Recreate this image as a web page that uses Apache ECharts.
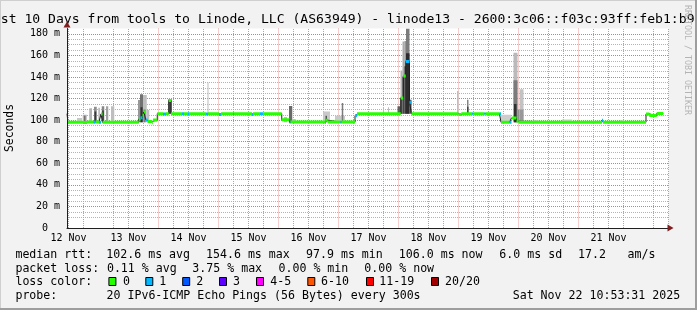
<!DOCTYPE html>
<html><head><meta charset="utf-8">
<script src="https://cdn.jsdelivr.net/npm/echarts@6/dist/echarts.min.js"></script>
<style>html,body{margin:0;padding:0;background:#f2f2f2}#c{width:697px;height:310px}</style>
</head><body><div id="c"></div>
<script>
// ---- data (time in hours since 12 Nov 00:00, values in ms) ----
const X_MIN = 11.4, X_MAX = 252;
const Y_MAX = 185;
const DAY_LABELS = ['12 Nov','13 Nov','14 Nov','15 Nov','16 Nov','17 Nov','18 Nov','19 Nov','20 Nov','21 Nov'];
const LABEL_HOURS = [12, 36, 60, 84, 108, 132, 156, 180, 204, 228];
const TITLE = 'st 10 Days from tools to Linode, LLC (AS63949) - linode13 - 2600:3c06::f03c:93ff:feb1:b9';
const Y_TITLE = 'Seconds';
const LOSS_LABELS = ['0','1','2','3','4-5','6-10','11-19','20/20'];
const LOSS_COLORS = ['#26ff00','#00b8ff','#0059ff','#5e00ff','#ff00ff','#ff5500','#ff0000','#a10000'];
const MEDIAN_RTT = ['102.6 ms avg','154.6 ms max','97.9 ms min','106.0 ms now','6.0 ms sd','17.2','am/s'];
const PACKET_LOSS = ['0.11 % avg','3.75 % max','0.00 % min','0.00 % now'];
const PROBE = '20 IPv6-ICMP Echo Pings (56 Bytes) every 300s';
const STAMP = 'Sat Nov 22 10:53:31 2025';

// median segments: [from, to, median ms, lost pings]
const MEDIAN = [
  [11.4,11.8,106.0,0],[11.8,17.8,98.1,0],[17.8,19.4,97.8,0],[19.4,22.0,98.3,0],[22.0,22.8,98.1,1],
  [22.8,24.2,98.3,0],[24.2,25.0,98.0,1],[25.0,25.6,105.8,0],[25.6,40.1,98.1,0],[40.1,40.8,101.0,0],
  [40.8,41.6,102.3,1],[41.6,42.2,104.5,0],[42.2,42.9,107.6,0],[42.9,43.6,100.2,1],[43.6,45.5,98.8,0],
  [45.5,45.8,97.7,0],[45.8,47.5,100.2,0],[47.5,49.8,106.0,0],[49.8,51.0,105.8,1],[51.0,52.1,106.0,0],
  [52.1,53.0,118.2,0],[53.0,57.4,106.0,0],[57.4,58.2,106.0,1],[58.2,59.8,106.0,0],[59.8,60.2,106.0,1],
  [60.2,67.0,106.0,0],[67.0,67.8,105.8,1],[67.8,72.2,106.0,0],[72.2,73.0,105.2,1],[73.0,77.8,106.0,0],
  [77.8,78.2,106.0,1],[78.2,85.4,106.0,0],[85.4,85.8,105.3,1],[85.8,88.6,106.0,0],[88.6,89.8,106.0,1],
  [89.8,97.3,106.0,0],[97.3,100.4,100.4,0],[100.4,100.8,98.0,1],[100.8,114.6,98.2,0],[114.6,115.0,98.0,1],
  [115.0,115.6,100.0,0],[115.6,120.8,98.2,0],[120.8,121.2,98.0,1],[121.2,126.6,98.2,0],[126.6,127.4,104.0,1],
  [127.4,144.9,105.9,0],[144.9,145.9,120.5,0],[145.9,146.9,141.0,0],[146.9,148.4,154.5,1],[148.4,149.2,116.5,1],
  [149.2,168.0,106.0,0],[168.0,169.1,105.2,0],[169.1,173.5,106.0,0],[173.5,173.9,106.0,1],[173.9,178.4,106.0,0],
  [178.4,178.8,106.0,1],[178.8,184.4,106.0,0],[184.4,185.0,106.0,1],[185.0,188.4,98.0,0],[188.4,189.2,98.0,1],
  [189.2,191.2,102.0,0],[191.2,192.0,99.0,0],[192.0,225.4,98.1,0],[225.4,225.8,100.0,1],[225.8,243.0,98.1,0],
  [243.0,244.3,105.8,0],[244.3,247.3,104.3,0],[247.3,249.9,106.2,0]
];

// smoke: [from, to, low ms, high ms, ping density 0..1]
const SMOKE = [
  [15.4,17.4,98,102,0.15],[17.7,19.3,98,105,0.25],[18.2,18.8,98,104,0.6],[20.3,21.4,98,111,0.25],
  [22.2,23.3,98,112.5,0.45],[22.4,23.1,98,108,0.9],[23.9,24.6,98,111.5,0.2],[25.3,26.3,98,113,0.5],
  [25.5,26.1,98,109,0.9],[27.0,27.9,98,113,0.35],[29.0,30.3,98,113,0.2],
  [39.8,40.6,98,118.8,0.4],[40.6,41.8,98,124,0.6],[40.8,41.6,98,112,0.95],[41.8,43.3,98,123.4,0.2],
  [42.0,42.8,98,110,0.55],[43.3,44.3,98,109.5,0.2],
  [52.0,53.2,106,119.7,0.8],[67.6,68.0,106,135,0.2],
  [98.2,99.4,98,103,0.2],[100.2,101.5,98,113.2,0.65],[101.5,102.9,98,101,0.2],[113.8,116.6,98,108,0.15],
  [114.8,115.4,98,104,0.75],[118.6,122.6,98,104,0.15],[121.3,121.9,98,116,0.55],
  [137.8,138.2,106,112,0.2],[139.8,140.2,106,112,0.2],[143.6,144.8,106,113,0.7],
  [144.8,145.6,106,146,0.25],[144.8,145.6,106,121,0.8],[145.6,146.4,106,173,0.3],[145.6,146.4,106,140,0.85],
  [146.4,147.0,106,173.5,0.4],[146.4,147.0,106,150,0.9],[147.0,148.4,106,185,0.55],[147.0,148.4,106,162,0.97],
  [148.4,149.2,106,119,0.75],
  [167.4,168.0,106,127,0.2],[171.4,172.0,106,119,0.5],[171.4,172.0,106,112.5,0.85],
  [185.0,189.0,98,105,0.12],[190.0,191.6,98,162.6,0.22],[190.0,191.6,98,137,0.55],[190.2,191.2,98,115,0.95],
  [191.6,192.4,98,110,0.45],[192.4,194.0,98,128.7,0.18],[192.4,194.0,98,110,0.4],
  [198.0,200.0,98,100,0.12],[209.4,213.4,98,100.6,0.12],[232.6,234.2,98,100,0.12]
];

// ---- chart ----
const MINOR_HOURS = [];
for (let h = 12; h <= X_MAX; h += 6) { if (h % 24 !== 0) MINOR_HOURS.push(h); }
const MIDNIGHTS = [];
for (let h = 24; h < X_MAX; h += 24) MIDNIGHTS.push(h);
const GRID5 = [];
for (let v = 5; v <= Y_MAX; v += 5) GRID5.push(v);
const MONO = '"DejaVu Sans Mono", monospace';
const GRID_COLOR = '#b4b4b4';
const MGRID_COLOR = 'rgba(222,79,79,0.55)';

function lossIndex(n) {
  if (n <= 3) return n;
  if (n <= 5) return 4;
  if (n <= 10) return 5;
  if (n <= 19) return 6;
  return 7;
}
function smokeColor(d) { const g = Math.round(228 - d * 190); return 'rgb(' + g + ',' + g + ',' + g + ')'; }

const lineData = [];
MEDIAN.forEach(s => { lineData.push([s[0], s[2]]); lineData.push([s[1], s[2]]); });
// minor vertical grid drawn as a segment series through the axis scales
const minorGridData = [];
MINOR_HOURS.forEach(h => { minorGridData.push([h, 0]); minorGridData.push([h, Y_MAX]); minorGridData.push([h, null]); });

const baseX = { type: 'value', min: X_MIN, max: X_MAX, position: 'bottom', axisLabel: { show: false },
  axisTick: { show: false }, axisLine: { show: false }, splitLine: { show: false } };
const baseY = { type: 'value', min: 0, max: Y_MAX, position: 'left', axisLabel: { show: false },
  axisTick: { show: false }, axisLine: { show: false }, splitLine: { show: false } };

const LEG_FONT = '11.6px ' + MONO;
function T(x, y, s, font) {
  return { type: 'text', x: x, y: y, silent: true,
    style: { text: s, font: font || LEG_FONT, fill: '#000', textVerticalAlign: 'middle' } };
}
const graphics = [];
graphics.push({ type: 'line', shape: { x1: 0, y1: 0.5, x2: 697, y2: 0.5 }, style: { stroke: '#cfcfcf', lineWidth: 1 } });
graphics.push({ type: 'line', shape: { x1: 0.5, y1: 0, x2: 0.5, y2: 310 }, style: { stroke: '#cfcfcf', lineWidth: 1 } });
graphics.push({ type: 'line', shape: { x1: 0, y1: 309, x2: 697, y2: 309 }, style: { stroke: '#9e9e9e', lineWidth: 2 } });
graphics.push({ type: 'line', shape: { x1: 696, y1: 0, x2: 696, y2: 310 }, style: { stroke: '#9e9e9e', lineWidth: 2 } });
graphics.push(T(0.8, 19.1, TITLE, '13.1px ' + MONO));
graphics.push({ type: 'text', x: 10.5, y: 128, rotation: Math.PI / 2, silent: true,
  style: { text: Y_TITLE, font: '11.4px ' + MONO, fill: '#000', textAlign: 'center', textVerticalAlign: 'middle' } });
graphics.push({ type: 'text', x: 687, y: 60, rotation: -Math.PI / 2, silent: true,
  style: { text: 'RRDTOOL / TOBI OETIKER', font: '8.3px ' + MONO, fill: '#b4b4b4', textAlign: 'center', textVerticalAlign: 'middle' } });
const ROW = [254.9, 268.6, 282.3, 296.0];
graphics.push(T(15.4, ROW[0], 'median rtt:'));
[106.3, 206.0, 306.0, 398.8, 499.3, 578.0, 627.5].forEach((x, i) => graphics.push(T(x, ROW[0], MEDIAN_RTT[i])));
graphics.push(T(15.4, ROW[1], 'packet loss:'));
[106.9, 192.3, 278.5, 364.3].forEach((x, i) => graphics.push(T(x, ROW[1], PACKET_LOSS[i])));
graphics.push(T(15.4, ROW[2], 'loss color:'));
const BOX_X = [108.4, 145.3, 182.2, 219.0, 256.0, 307.3, 366.0, 431.0];
const LAB_X = [123.0, 159.3, 196.3, 233.0, 270.3, 321.0, 379.3, 445.0];
LOSS_LABELS.forEach((l, i) => {
  graphics.push({ type: 'rect', silent: true, shape: { x: BOX_X[i] + 0.5, y: 277.5, width: 7, height: 8 },
    style: { fill: LOSS_COLORS[i], stroke: '#000', lineWidth: 1 } });
  graphics.push(T(LAB_X[i], ROW[2], l));
});
graphics.push(T(15.4, ROW[3], 'probe:'));
graphics.push(T(106.5, ROW[3], PROBE));
graphics.push(T(512.7, ROW[3], STAMP));

const option = {
  animation: false,
  backgroundColor: '#f2f2f2',
  grid: { left: 67, right: 28.5, top: 28.5, bottom: 82, show: true, backgroundColor: '#ffffff', borderWidth: 0, z: 0 },
  xAxis: [
    Object.assign({}, baseX, { z: 2, axisTick: { show: false, customValues: MIDNIGHTS },
      splitLine: { show: true, showMinLine: false, showMaxLine: false, lineStyle: { color: MGRID_COLOR, type: [1, 1], width: 1 } } }),
    Object.assign({}, baseX, { z: 8,
      axisLine: { show: true, onZero: false, lineStyle: { color: '#1f1f1f', width: 1 } },
      axisLabel: { show: true, customValues: LABEL_HOURS, margin: 5, fontFamily: MONO, fontSize: 10, color: '#000',
        formatter: v => DAY_LABELS[LABEL_HOURS.indexOf(Math.round(v))] || '' } }),
    Object.assign({}, baseX, { z: 9,
      axisLine: { show: true, onZero: false, symbol: ['none', 'triangle'], symbolSize: [7, 6], symbolOffset: [0, 2],
        lineStyle: { color: '#7f1f1f', width: 0 } } })
  ],
  yAxis: [
    Object.assign({}, baseY, { z: 2, interval: 20,
      axisLabel: { show: true, margin: 7, showMaxLabel: false, fontFamily: MONO, fontSize: 10, color: '#000',
        formatter: v => v === 0 ? '0  ' : v + ' m' },
      splitLine: { show: true, showMinLine: false, showMaxLine: false, lineStyle: { color: MGRID_COLOR, type: [1, 1], width: 1 } } }),
    Object.assign({}, baseY, { z: 1, axisTick: { show: false, customValues: GRID5 },
      splitLine: { show: true, showMinLine: false, showMaxLine: false, lineStyle: { color: GRID_COLOR, type: [1, 1], width: 1 } } }),
    Object.assign({}, baseY, { z: 8,
      axisLine: { show: true, onZero: false, lineStyle: { color: '#1f1f1f', width: 1 } } }),
    Object.assign({}, baseY, { z: 9,
      axisLine: { show: true, onZero: false, symbol: ['none', 'triangle'], symbolSize: [7, 6], symbolOffset: [0, 4],
        lineStyle: { color: '#7f1f1f', width: 0 } } })
  ],
  series: [
    { type: 'line', name: 'minor time grid', xAxisIndex: 1, yAxisIndex: 0, z: 3, silent: true,
      data: minorGridData, showSymbol: false, connectNulls: false,
      lineStyle: { color: '#a8a8a8', width: 1, type: [1, 1] } },
    { type: 'custom', name: 'smoke', xAxisIndex: 1, yAxisIndex: 0, clip: true, z: 4,
      data: SMOKE,
      encode: { x: [0, 1], y: [2, 3] },
      renderItem: (params, api) => {
        const a = api.coord([api.value(0), api.value(3)]);
        const b = api.coord([api.value(1), api.value(2)]);
        return { type: 'rect', shape: { x: a[0], y: a[1], width: Math.max(1, b[0] - a[0]), height: b[1] - a[1] },
          style: { fill: smokeColor(api.value(4)) } };
      } },
    { type: 'line', name: 'median', xAxisIndex: 1, yAxisIndex: 0, z: 5, data: lineData, showSymbol: false,
      lineStyle: { color: '#202020', width: 1 }, silent: true },
    { type: 'custom', name: 'loss', xAxisIndex: 1, yAxisIndex: 0, clip: true, z: 6,
      data: MEDIAN,
      encode: { x: [0, 1], y: 2 },
      renderItem: (params, api) => {
        const a = api.coord([api.value(0), api.value(2)]);
        const b = api.coord([api.value(1), api.value(2)]);
        return { type: 'rect', shape: { x: a[0], y: a[1] - 1.5, width: b[0] - a[0], height: 3 },
          style: { fill: LOSS_COLORS[lossIndex(api.value(3))] } };
      } }
  ],
  graphic: graphics
};
const chart = echarts.init(document.getElementById('c'), null, { renderer: 'canvas' });
chart.setOption(option);
</script>
</body></html>
